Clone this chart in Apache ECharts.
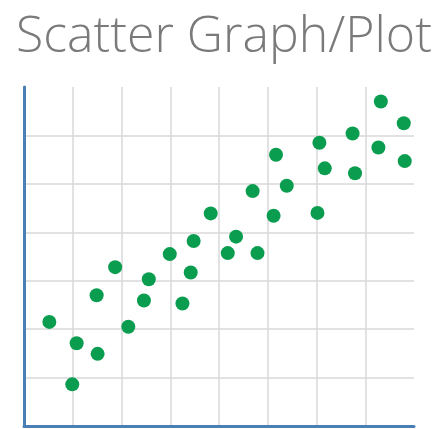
<!DOCTYPE html>
<html>
<head>
<meta charset="utf-8">
<script src="https://cdn.jsdelivr.net/npm/echarts@6/dist/echarts.min.js"></script>
<style>
	html, body { margin: 0; padding: 0; background: #fff; }
	#chart { width: 432px; height: 429px; }
</style>
</head>
<body>
<div id="chart"></div>
<script>
// point positions (axis units, 0..8 across, 0..7 up)
const xValues = [0.52, 1.08, 0.99, 1.49, 1.51, 1.87, 2.14, 2.46, 2.56, 2.99,
	3.25, 3.42, 3.48, 3.83, 4.18, 4.35, 4.69, 4.79, 5.12, 5.17,
	5.39, 6.02, 6.06, 6.17, 6.74, 6.79, 7.27, 7.32, 7.79, 7.81]
const yValues = [2.15, 1.71, 0.86, 2.70, 1.49, 3.28, 2.05, 2.59, 3.03, 3.55,
	2.53, 3.17, 3.82, 4.39, 3.57, 3.91, 4.85, 3.57, 4.34, 5.60,
	4.96, 4.40, 5.85, 5.32, 6.04, 5.22, 5.75, 6.70, 6.25, 5.47]
const titleText = 'Scatter Graph/Plot'

const chart = echarts.init(document.getElementById('chart'))
chart.setOption({
	animation: false,
	title: {
		text: titleText,
		left: 11,
		top: 8,
		textStyle: {
			fontFamily: 'Open Sans',
			fontWeight: 300,
			fontSize: 50,
			color: '#7a7a7a',
		},
	},
	grid: {
		left: 24,
		top: 87,
		width: 390,
		height: 339,
	},
	xAxis: {
		type: 'value',
		min: 0,
		max: 8,
		interval: 1,
		axisLine: { show: true, lineStyle: { color: '#4a7fb5', width: 3 } },
		axisTick: { show: false },
		axisLabel: { show: false },
		splitLine: { show: true, showMinLine: false, showMaxLine: false, lineStyle: { color: '#d9d9d9', width: 1.5 } },
	},
	yAxis: {
		type: 'value',
		min: 0,
		max: 7,
		interval: 1,
		axisLine: { show: true, lineStyle: { color: '#4a7fb5', width: 3 } },
		axisTick: { show: false },
		axisLabel: { show: false },
		splitLine: { show: true, showMinLine: false, showMaxLine: false, lineStyle: { color: '#d9d9d9', width: 1.5 } },
	},
	series: [
		{
			type: 'scatter',
			symbolSize: 14,
			itemStyle: { color: '#0b9d4f', opacity: 1 },
			data: xValues.map((x, i) => [x, yValues[i]]),
		},
	],
})
</script>
</body>
</html>
